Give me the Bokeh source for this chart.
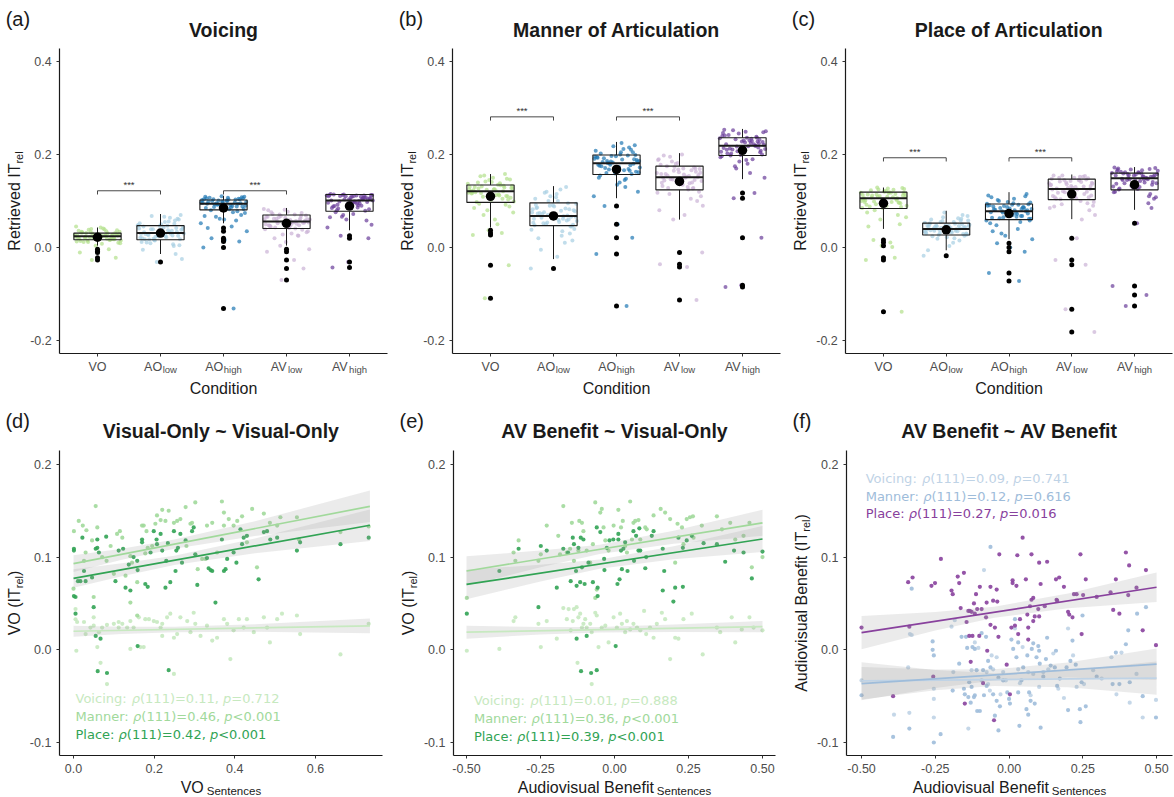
import math
from bokeh.plotting import figure
from bokeh.layouts import gridplot
from bokeh.models import Range1d, FixedTicker, Label, NumeralTickFormatter, LinearAxis, Grid
from bokeh.embed import file_html
from bokeh.resources import INLINE

# ======================= DATA: box plots (a)-(c) =======================
CONDITIONS = ["VO", "AO_low", "AO_high", "AV_low", "AV_high"]
TICK_MAIN = ["VO", "AO", "AO", "AV", "AV"]
TICK_SUB = ["", "low", "high", "low", "high"]
BOX_COLORS = ["#b2df8a", "#a6cee3", "#1f78b4", "#cab2d6", "#6a3d9a"]
BOX_Y_TICKS = [-0.2, 0.0, 0.2, 0.4]
SIG_PAIRS = [(1, 2), (3, 4)]
SIG_TEXT = "***"

# (a) Voicing
VOI_Q1 = [0.0165, 0.0165, 0.081, 0.041, 0.078]
VOI_MED = [0.024, 0.031, 0.094, 0.056, 0.101]
VOI_Q3 = [0.031, 0.047, 0.102, 0.070, 0.114]
VOI_LO = [0.004, -0.014, 0.052, 0.004, 0.037]
VOI_HI = [0.043, 0.072, 0.111, 0.085, 0.115]
VOI_MEAN = [0.022, 0.031, 0.085, 0.052, 0.089]
VOI_OUT = [[-0.004, -0.008, -0.011, -0.022, -0.027], [-0.031],
           [0.042, 0.035, 0.020, 0.016, 0.013, 0.000, -0.131],
           [-0.004, -0.009, -0.027, -0.045, -0.070], [0.025, 0.020, -0.031, -0.043]]
VOI_SIG_Y = 0.122
VOI_PTS = [
    [0.021, 0.025, 0.018, 0.030, 0.034, 0.012, 0.027, 0.023, 0.016, 0.038, 0.029, 0.020, 0.014, 0.041, 0.026, 0.031, 0.010, 0.024, 0.019, 0.036,
     0.028, 0.022, 0.033, 0.045, 0.017, 0.008, 0.032, 0.026, 0.015, 0.039, 0.004, -0.004, -0.011, -0.022, -0.027, 0.043, 0.021, 0.028, 0.013, 0.035,
     0.019, 0.024, 0.029, 0.022, 0.017, 0.027, 0.031, 0.020, 0.025, 0.034, 0.015, 0.023, 0.028, 0.018, 0.026, 0.030, 0.021, 0.037, 0.012, 0.024,
     0.032, 0.019, 0.040, 0.009],
    [0.031, 0.045, 0.022, 0.058, 0.017, 0.038, 0.026, 0.064, 0.012, 0.050, 0.034, 0.019, 0.041, 0.003, 0.055, 0.029, 0.070, 0.009, 0.047, 0.024,
     0.036, -0.005, 0.060, 0.015, 0.043, 0.028, -0.014, 0.052, 0.033, 0.020, 0.066, -0.025, 0.039, 0.007, 0.048, 0.025, -0.031, 0.056, 0.018, 0.030,
     0.027, 0.035, 0.042, 0.021, 0.030, 0.046, 0.018, 0.039, 0.025, 0.033, 0.051, 0.016, 0.044, 0.029, 0.037, 0.062, 0.023, 0.040, 0.011, 0.032,
     0.048, 0.026, 0.068, 0.005],
    [0.095, 0.102, 0.088, 0.107, 0.099, 0.083, 0.104, 0.091, 0.110, 0.097, 0.085, 0.108, 0.093, 0.101, 0.080, 0.105, 0.096, 0.089, 0.109, 0.100,
     0.074, 0.066, 0.058, 0.052, 0.070, 0.062, 0.045, 0.042, 0.035, 0.020, 0.016, 0.013, 0.000, -0.131, 0.098, 0.106, 0.087, 0.103, 0.094, 0.078,
     0.092, 0.098, 0.104, 0.086, 0.095, 0.101, 0.090, 0.107, 0.084, 0.097, 0.103, 0.093, 0.088, 0.099, 0.106, 0.082, 0.094, 0.100, 0.109, 0.091,
     0.076, 0.068, 0.060, 0.104],
    [0.056, 0.068, 0.045, 0.062, 0.074, 0.050, 0.041, 0.080, 0.059, 0.035, 0.065, 0.048, 0.083, 0.053, 0.028, 0.071, 0.044, 0.060, 0.020, 0.077,
     0.038, 0.066, 0.051, 0.012, 0.069, 0.057, 0.030, 0.046, 0.063, 0.004, -0.004, -0.009, -0.027, -0.045, -0.070, 0.054, 0.072, 0.042, 0.061, 0.025,
     0.052, 0.058, 0.064, 0.047, 0.055, 0.068, 0.043, 0.061, 0.050, 0.057, 0.066, 0.045, 0.053, 0.071, 0.039, 0.059, 0.049, 0.076, 0.033, 0.062,
     0.054, 0.081, 0.026, 0.048],
    [0.105, 0.112, 0.098, 0.110, 0.086, 0.114, 0.101, 0.092, 0.108, 0.079, 0.113, 0.095, 0.103, 0.082, 0.111, 0.099, 0.088, 0.107, 0.070, 0.113,
     0.065, 0.094, 0.058, 0.104, 0.049, 0.076, 0.109, 0.043, 0.090, 0.025, 0.020, -0.031, -0.043, 0.097, 0.112, 0.084, 0.106, 0.060, 0.100, 0.115,
     0.102, 0.108, 0.113, 0.096, 0.104, 0.111, 0.089, 0.106, 0.099, 0.112, 0.093, 0.109, 0.085, 0.103, 0.114, 0.097, 0.080, 0.107, 0.110, 0.091,
     0.101, 0.072, 0.113, 0.066],
]

# (b) Manner of Articulation
MAN_Q1 = [0.097, 0.047, 0.157, 0.124, 0.198]
MAN_MED = [0.121, 0.068, 0.181, 0.151, 0.219]
MAN_Q3 = [0.1345, 0.096, 0.199, 0.175, 0.236]
MAN_LO = [0.043, -0.025, 0.106, 0.060, 0.147]
MAN_HI = [0.158, 0.132, 0.227, 0.203, 0.255]
MAN_MEAN = [0.110, 0.068, 0.168, 0.142, 0.209]
MAN_OUT = [[0.037, 0.031, 0.027, -0.038, -0.109], [-0.045],
           [0.089, 0.050, 0.021, -0.014, -0.126],
           [-0.011, -0.036, -0.042, -0.113], [0.117, 0.106, 0.021, -0.081, -0.085]]
MAN_SIG_Y = 0.281
MAN_PTS = [
    [0.121, 0.135, 0.110, 0.142, 0.127, 0.098, 0.150, 0.118, 0.105, 0.131, 0.088, 0.145, 0.123, 0.113, 0.158, 0.094, 0.128, 0.080, 0.138, 0.116,
     0.102, 0.148, 0.070, 0.125, 0.133, 0.060, 0.119, 0.107, 0.153, 0.050, 0.037, 0.031, 0.027, -0.038, -0.109, 0.124, 0.140, 0.092, 0.130, 0.112,
     0.118, 0.126, 0.132, 0.109, 0.121, 0.137, 0.103, 0.124, 0.114, 0.130, 0.099, 0.127, 0.141, 0.111, 0.120, 0.134, 0.106, 0.146, 0.117, 0.123,
     0.085, 0.129, 0.155, 0.075],
    [0.068, 0.085, 0.055, 0.095, 0.072, 0.040, 0.110, 0.062, 0.048, 0.088, 0.030, 0.120, 0.075, 0.058, 0.100, 0.020, 0.080, 0.052, 0.125, 0.065,
     0.010, 0.092, 0.045, 0.070, 0.115, -0.005, 0.060, 0.082, 0.035, 0.105, -0.020, 0.078, 0.050, 0.130, -0.045, 0.066, 0.090, 0.025, 0.073, 0.057,
     0.064, 0.071, 0.082, 0.053, 0.067, 0.091, 0.049, 0.076, 0.059, 0.086, 0.069, 0.054, 0.094, 0.062, 0.079, 0.045, 0.100, 0.066, 0.074, 0.108,
     0.038, 0.084, 0.118, 0.015],
    [0.181, 0.195, 0.165, 0.205, 0.175, 0.188, 0.160, 0.212, 0.170, 0.198, 0.150, 0.220, 0.185, 0.140, 0.192, 0.158, 0.208, 0.130, 0.178, 0.200,
     0.120, 0.168, 0.215, 0.110, 0.190, 0.183, 0.145, 0.202, 0.172, 0.089, 0.050, 0.021, -0.014, -0.126, 0.196, 0.163, 0.186, 0.225, 0.155, 0.177,
     0.178, 0.186, 0.194, 0.166, 0.180, 0.197, 0.162, 0.184, 0.173, 0.191, 0.169, 0.182, 0.199, 0.159, 0.176, 0.189, 0.210, 0.171, 0.185, 0.218,
     0.148, 0.193, 0.135, 0.205],
    [0.151, 0.165, 0.135, 0.175, 0.145, 0.190, 0.125, 0.158, 0.170, 0.110, 0.185, 0.140, 0.160, 0.100, 0.180, 0.130, 0.198, 0.090, 0.155, 0.148,
     0.170, 0.080, 0.138, 0.162, 0.120, 0.195, 0.070, 0.150, 0.128, 0.060, -0.011, -0.036, -0.042, -0.113, 0.173, 0.143, 0.158, 0.200, 0.118, 0.166,
     0.147, 0.156, 0.168, 0.132, 0.150, 0.172, 0.128, 0.161, 0.141, 0.154, 0.178, 0.136, 0.163, 0.146, 0.188, 0.127, 0.157, 0.144, 0.169, 0.115,
     0.152, 0.182, 0.105, 0.139],
    [0.219, 0.235, 0.205, 0.245, 0.225, 0.210, 0.250, 0.198, 0.230, 0.215, 0.240, 0.190, 0.228, 0.200, 0.252, 0.180, 0.222, 0.238, 0.170, 0.212,
     0.246, 0.160, 0.232, 0.207, 0.150, 0.242, 0.226, 0.194, 0.117, 0.106, 0.021, -0.081, -0.085, 0.218, 0.236, 0.202, 0.248, 0.185, 0.229, 0.214,
     0.215, 0.224, 0.233, 0.206, 0.219, 0.236, 0.202, 0.227, 0.211, 0.230, 0.199, 0.222, 0.241, 0.208, 0.217, 0.249, 0.213, 0.228, 0.196, 0.234,
     0.253, 0.188, 0.221, 0.175],
]

# (c) Place of Articulation
PLA_Q1 = [0.084, 0.027, 0.060, 0.103, 0.124]
PLA_MED = [0.106, 0.040, 0.078, 0.126, 0.149]
PLA_Q3 = [0.119, 0.0525, 0.0935, 0.147, 0.160]
PLA_LO = [0.040, -0.006, 0.018, 0.061, 0.081]
PLA_HI = [0.129, 0.079, 0.119, 0.157, 0.173]
PLA_MEAN = [0.095, 0.038, 0.073, 0.115, 0.135]
PLA_OUT = [[0.016, 0.011, 0.004, -0.022, -0.027, -0.138], [-0.018],
           [0.009, 0.000, -0.009, -0.055, -0.072],
           [0.020, -0.027, -0.037, -0.133, -0.182], [0.052, -0.083, -0.102, -0.126]]
PLA_SIG_Y = 0.193
PLA_PTS = [
    [0.106, 0.118, 0.095, 0.125, 0.110, 0.088, 0.122, 0.100, 0.115, 0.080, 0.128, 0.104, 0.092, 0.119, 0.070, 0.112, 0.126, 0.060, 0.108, 0.098,
     0.121, 0.050, 0.114, 0.085, 0.102, 0.127, 0.045, 0.117, 0.016, 0.011, 0.004, -0.022, -0.027, -0.138, 0.109, 0.090, 0.123, 0.097, 0.113, 0.001,
     0.101, 0.109, 0.116, 0.093, 0.105, 0.118, 0.087, 0.111, 0.098, 0.114, 0.090, 0.107, 0.120, 0.096, 0.103, 0.124, 0.085, 0.112, 0.099, 0.117,
     0.075, 0.106, 0.129, 0.065],
    [0.040, 0.050, 0.032, 0.058, 0.044, 0.028, 0.065, 0.036, 0.047, 0.022, 0.070, 0.038, 0.053, 0.015, 0.042, 0.060, 0.030, 0.048, 0.010, 0.075,
     0.035, 0.045, 0.025, 0.055, 0.003, 0.041, 0.062, 0.033, 0.051, -0.006, 0.039, 0.068, 0.027, 0.046, -0.018, 0.043, 0.057, 0.020, 0.037, 0.049,
     0.036, 0.043, 0.050, 0.030, 0.039, 0.048, 0.028, 0.045, 0.034, 0.052, 0.041, 0.031, 0.046, 0.038, 0.055, 0.029, 0.042, 0.058, 0.024, 0.047,
     0.035, 0.063, 0.019, 0.044],
    [0.078, 0.090, 0.068, 0.095, 0.082, 0.062, 0.100, 0.074, 0.087, 0.055, 0.108, 0.080, 0.065, 0.092, 0.048, 0.085, 0.112, 0.040, 0.076, 0.070,
     0.097, 0.030, 0.083, 0.058, 0.115, 0.025, 0.072, 0.088, 0.018, 0.009, 0.000, -0.009, -0.055, -0.072, 0.079, 0.093, 0.063, 0.105, 0.035, 0.086,
     0.075, 0.083, 0.091, 0.066, 0.078, 0.089, 0.062, 0.081, 0.071, 0.094, 0.068, 0.085, 0.073, 0.098, 0.064, 0.080, 0.087, 0.102, 0.058, 0.077,
     0.092, 0.052, 0.084, 0.110],
    [0.126, 0.140, 0.110, 0.150, 0.120, 0.135, 0.100, 0.155, 0.130, 0.090, 0.145, 0.115, 0.138, 0.080, 0.128, 0.152, 0.105, 0.070, 0.142, 0.122,
     0.095, 0.148, 0.060, 0.132, 0.112, 0.155, 0.020, -0.027, -0.037, -0.133, -0.182, 0.125, 0.144, 0.108, 0.136, 0.098, 0.118, 0.150, 0.085, 0.131,
     0.121, 0.132, 0.143, 0.108, 0.125, 0.146, 0.104, 0.137, 0.116, 0.141, 0.111, 0.129, 0.149, 0.119, 0.134, 0.154, 0.106, 0.127, 0.139, 0.093,
     0.145, 0.123, 0.152, 0.088],
    [0.149, 0.160, 0.135, 0.168, 0.152, 0.125, 0.165, 0.145, 0.157, 0.115, 0.172, 0.140, 0.155, 0.105, 0.162, 0.130, 0.170, 0.095, 0.150, 0.158,
     0.120, 0.166, 0.085, 0.147, 0.138, 0.163, 0.052, -0.083, -0.102, -0.126, 0.153, 0.128, 0.167, 0.143, 0.110, 0.159, 0.171, 0.133, 0.146, 0.155,
     0.144, 0.152, 0.158, 0.131, 0.147, 0.161, 0.127, 0.155, 0.138, 0.159, 0.134, 0.150, 0.164, 0.141, 0.156, 0.126, 0.148, 0.169, 0.119, 0.153,
     0.137, 0.162, 0.108, 0.145],
]

# horizontal jitter offsets (category units), read-off spread of the clouds
JITTER = [-0.31, 0.12, 0.27, -0.08, 0.35, -0.22, 0.04, -0.35, 0.19, -0.14, 0.30, -0.02, -0.27, 0.09, 0.23, -0.18, 0.33, -0.05, 0.15, -0.30,
          0.01, 0.26, -0.11, -0.34, 0.21, 0.07, -0.24, 0.32, -0.16, 0.11, -0.03, 0.18, -0.28, 0.29, -0.09, 0.05, -0.20, 0.24, -0.33, 0.14,
          -0.29, 0.06, 0.34, -0.12, 0.20, -0.36, 0.28, -0.06, 0.13, -0.25, 0.37, -0.19, 0.02, 0.25, -0.32, 0.16, -0.01, 0.31, -0.15, 0.08,
          -0.26, 0.22, -0.10, 0.36]

# ======================= DATA: scatter panels (d)-(f) =======================
SERIES = ["Voicing", "Manner", "Place"]
DF = 111
GREEN_COLORS = ["#c7e9c0", "#a1d99b", "#31a354"]
BUPU_COLORS = ["#bfd3e6", "#9ebcda", "#88419d"]
SCAT_Y_TICKS = [-0.1, 0.0, 0.1, 0.2]

D_VOICING = [(0.005,0.033),(0.009,0.030),(0.007,-0.001),(0.026,0.030),(0.030,0.017),(0.042,0.024),(0.050,0.035),(0.063,0.019),(0.071,0.024),
             (0.083,0.027),(0.100,0.028),(0.112,0.030),(0.121,0.028),(0.133,0.024),(0.141,0.031),(0.149,0.024),(0.162,0.035),(0.166,0.003),
             (0.178,0.033),(0.187,0.033),(0.199,0.031),(0.207,0.030),(0.216,0.024),(0.220,0.015),(0.232,0.035),(0.240,0.039),(0.249,0.013),
             (0.257,0.017),(0.265,0.035),(0.282,0.031),(0.290,0.019),(0.298,0.040),(0.302,0.028),(0.315,0.015),(0.331,0.026),(0.344,0.010),
             (0.356,0.013),(0.373,0.033),(0.381,0.028),(0.389,-0.010),(0.397,0.021),(0.410,0.033),(0.422,0.024),(0.430,0.033),(0.447,0.019),
             (0.472,0.035),(0.480,0.024),(0.487,0.008),(0.505,0.033),(0.517,0.039),(0.554,0.037),(0.562,0.017),(0.662,-0.005),(0.732,0.028),
             (0.005,0.044),(0.059,0.003),(0.067,-0.014),(0.083,-0.037),(0.141,0.001),(0.174,0.003),(0.249,-0.026),(0.050,0.026),(0.112,0.024),
             (0.220,0.028)]
D_MANNER = [(0.001,0.128),(0.013,0.139),(0.023,0.134),(0.030,0.105),(0.026,0.096),(0.032,0.129),(0.055,0.155),(0.059,0.132),(0.046,0.118),
            (0.071,0.100),(0.082,0.096),(0.092,0.112),(0.100,0.082),(0.108,0.125),(0.115,0.128),(0.121,0.121),(0.129,0.080),(0.141,0.101),
            (0.145,0.094),(0.158,0.073),(0.170,0.134),(0.174,0.134),(0.181,0.128),(0.184,0.110),(0.178,0.104),(0.195,0.112),(0.203,0.136),
            (0.207,0.145),(0.220,0.151),(0.216,0.140),(0.228,0.139),(0.236,0.150),(0.249,0.137),(0.257,0.139),(0.265,0.141),(0.278,0.154),
            (0.280,0.112),(0.290,0.136),(0.294,0.137),(0.302,0.159),(0.308,0.087),(0.319,0.098),(0.327,0.098),(0.331,0.134),(0.344,0.137),
            (0.356,0.105),(0.368,0.160),(0.373,0.148),(0.373,0.134),(0.385,0.141),(0.397,0.134),(0.406,0.139),(0.418,0.144),(0.430,0.116),
            (0.443,0.152),(0.455,0.089),(0.472,0.147),(0.487,0.137),(0.505,0.134),(0.513,0.143),(0.554,0.143),(0.559,0.119),(0.662,0.127),
            (0.732,0.133),(0.050,0.057),(0.141,0.051),(0.158,0.037),(0.000,0.066)]
D_PLACE = [(0.001,0.109),(0.001,0.107),(0.011,0.074),(0.001,0.058),(0.005,0.057),(0.005,0.039),(0.022,0.121),(0.026,0.085),(0.017,0.074),
           (0.030,0.074),(0.046,0.078),(0.055,0.109),(0.059,0.110),(0.063,0.105),(0.059,0.119),(0.081,0.122),(0.104,0.074),(0.112,0.107),
           (0.123,0.109),(0.129,0.067),(0.141,0.064),(0.137,0.092),(0.149,0.100),(0.158,0.096),(0.159,0.086),(0.170,0.119),(0.170,0.116),
           (0.178,0.071),(0.184,0.068),(0.191,0.105),(0.199,0.128),(0.206,0.119),(0.207,0.114),(0.216,0.125),(0.220,0.107),(0.228,0.067),
           (0.230,0.096),(0.234,0.115),(0.240,0.073),(0.249,0.128),(0.253,0.085),(0.255,0.107),(0.259,0.110),(0.265,0.125),(0.269,0.094),
           (0.278,0.118),(0.294,0.128),(0.298,0.132),(0.302,0.103),(0.307,0.070),(0.331,0.099),(0.335,0.088),(0.340,0.086),(0.344,0.085),
           (0.352,0.051),(0.368,0.119),(0.373,0.085),(0.377,0.087),(0.381,0.098),(0.397,0.105),(0.404,0.094),(0.414,0.130),(0.418,0.114),
           (0.422,0.121),(0.430,0.123),(0.459,0.076),(0.472,0.127),(0.480,0.128),(0.488,0.119),(0.505,0.121),(0.554,0.107),(0.562,0.116),
           (0.662,0.114),(0.732,0.121),(0.050,0.046),(0.055,0.015),(0.067,0.012),(0.060,-0.023),(0.083,-0.025),(0.159,0.004),(0.236,-0.022)]
D_INTERCEPT = [0.020, 0.093, 0.077]
D_SLOPE = [0.008, 0.084, 0.078]
D_LINE_X = [0.0, 0.735]
D_BAND_X = [0.0, 0.12, 0.25, 0.45, 0.735]
D_BAND_HW = [[0.006, 0.004, 0.003, 0.004, 0.008], [0.009, 0.006, 0.005, 0.008, 0.017], [0.010, 0.007, 0.005, 0.008, 0.017]]
D_X_TICKS = [0.0, 0.2, 0.4, 0.6]
D_RHO = ["0.11", "0.46", "0.42"]
D_P = ["=0.712", "<0.001", "<0.001"]

E_VOICING = [(-0.499,-0.001),(-0.389,0.001),(-0.335,0.035),(-0.341,0.031),(-0.257,0.028),(-0.249,0.003),(-0.229,0.031),(-0.195,0.012),
             (-0.173,0.045),(-0.161,0.033),(-0.155,0.044),(-0.148,0.021),(-0.141,0.031),(-0.137,0.044),(-0.128,0.046),(-0.122,0.035),
             (-0.116,0.039),(-0.110,0.024),(-0.105,0.028),(-0.099,0.033),(-0.094,0.024),(-0.082,0.028),(-0.077,0.019),(-0.065,0.040),
             (-0.060,0.037),(-0.054,0.003),(-0.043,0.024),(-0.031,0.026),(-0.020,0.008),(-0.003,0.035),(0.008,0.024),(0.019,0.039),
             (0.025,0.028),(0.036,0.019),(0.042,0.031),(0.053,0.022),(0.064,0.028),(0.076,0.024),(0.087,0.021),(0.100,0.042),(0.107,0.017),
             (0.120,0.024),(0.132,0.013),(0.143,0.028),(0.160,0.040),(0.171,0.033),(0.188,-0.010),(0.205,0.013),(0.216,0.012),(0.233,0.033),
             (0.261,0.039),(0.298,-0.005),(0.346,0.024),(0.357,0.019),(0.396,0.035),(0.408,0.008),(0.430,0.022),(0.456,0.035),(0.470,0.024),
             (0.500,0.021),(-0.125,-0.014),(-0.077,-0.037)]
E_MANNER = [(-0.324,0.118),(-0.341,0.105),(-0.335,0.096),(-0.257,0.096),(-0.249,0.103),(-0.229,0.134),(-0.190,0.123),(-0.173,0.155),
            (-0.184,0.103),(-0.161,0.105),(-0.150,0.109),(-0.144,0.137),(-0.137,0.096),(-0.122,0.107),(-0.119,0.139),(-0.110,0.137),
            (-0.105,0.128),(-0.094,0.107),(-0.082,0.094),(-0.073,0.114),(-0.065,0.159),(-0.048,0.148),(-0.043,0.152),(-0.037,0.132),
            (-0.031,0.118),(-0.020,0.107),(-0.003,0.134),(0.013,0.151),(0.022,0.132),(0.028,0.139),(0.036,0.112),(0.042,0.105),(0.053,0.160),
            (0.059,0.119),(0.064,0.137),(0.070,0.139),(0.081,0.140),(0.087,0.119),(0.104,0.132),(0.109,0.130),(0.132,0.145),(0.156,0.152),
            (0.171,0.148),(0.188,0.141),(0.205,0.094),(0.213,0.136),(0.228,0.132),(0.233,0.114),(0.244,0.141),(0.255,0.143),(0.265,0.144),
            (0.295,0.134),(0.346,0.144),(0.363,0.130),(0.391,0.137),(0.408,0.119),(0.436,0.123),(0.456,0.137),(0.464,0.089),(0.500,0.100),
            (0.267,0.121),(-0.060,0.065),(-0.065,0.056),(-0.499,0.056)]
E_PLACE = [(-0.499,0.039),(-0.389,0.085),(-0.324,0.109),(-0.257,0.046),(-0.249,0.112),(-0.229,0.107),(-0.195,0.067),(-0.173,0.109),
           (-0.157,0.105),(-0.148,0.074),(-0.141,0.121),(-0.137,0.114),(-0.130,0.085),(-0.128,0.069),(-0.122,0.110),(-0.116,0.073),
           (-0.114,0.121),(-0.110,0.089),(-0.105,0.119),(-0.101,0.071),(-0.088,0.094),(-0.073,0.073),(-0.060,0.132),(-0.057,0.067),
           (-0.057,0.058),(-0.048,0.127),(-0.035,0.098),(-0.034,0.086),(-0.026,0.110),(-0.017,0.118),(-0.004,0.119),(0.010,0.071),
           (0.013,0.125),(0.013,0.119),(0.017,0.076),(0.022,0.107),(0.025,0.087),(0.030,0.109),(0.036,0.116),(0.044,0.085),(0.064,0.128),
           (0.066,0.096),(0.073,0.123),(0.081,0.107),(0.084,0.131),(0.087,0.107),(0.104,0.088),(0.107,0.100),(0.126,0.123),(0.132,0.128),
           (0.163,0.109),(0.163,0.064),(0.168,0.085),(0.199,0.052),(0.205,0.067),(0.216,0.121),(0.231,0.110),(0.231,0.068),(0.244,0.118),
           (0.261,0.123),(0.301,0.115),(0.346,0.114),(0.374,0.095),(0.404,0.107),(0.436,0.105),(0.464,0.077),(0.500,0.106),(-0.128,0.012),
           (-0.094,0.015),(0.004,0.004),(-0.113,-0.023),(-0.079,-0.025),(-0.060,-0.022)]
E_INTERCEPT = [0.022, 0.111, 0.095]
E_SLOPE = [0.006, 0.052, 0.049]
E_LINE_X = [-0.5, 0.5]
E_BAND_X = [-0.5, -0.25, -0.05, 0.2, 0.5]
E_BAND_HW = [[0.007, 0.004, 0.003, 0.004, 0.006], [0.016, 0.009, 0.005, 0.007, 0.014], [0.016, 0.009, 0.005, 0.007, 0.014]]
EF_X_TICKS = [-0.5, -0.25, 0.0, 0.25, 0.5]
E_RHO = ["0.01", "0.36", "0.39"]
E_P = ["=0.888", "<0.001", "<0.001"]

F_VOICING = [(-0.500,-0.033),(-0.338,-0.068),(-0.342,-0.019),(-0.336,0.017),(-0.255,-0.073),(-0.255,-0.042),(-0.255,-0.053),(-0.195,0.025),
             (-0.184,0.032),(-0.127,-0.022),(-0.116,0.008),(-0.104,0.002),(-0.093,-0.033),(-0.085,0.086),(-0.076,-0.024),(-0.071,-0.037),
             (-0.065,-0.044),(-0.054,-0.021),(-0.042,-0.008),(-0.029,-0.048),(-0.020,-0.024),(-0.011,-0.033),(0.020,0.023),(0.031,-0.021),
             (0.037,-0.036),(0.046,0.003),(0.065,-0.024),(0.073,-0.049),(0.082,-0.026),(0.102,-0.040),(0.116,-0.024),(0.133,-0.021),
             (0.150,-0.004),(0.167,-0.042),(0.186,-0.052),(0.200,0.023),(0.217,-0.006),(0.229,-0.040),(0.254,-0.037),(0.285,-0.022),
             (0.314,-0.031),(0.347,-0.008),(0.364,-0.048),(0.381,-0.003),(0.409,-0.057),(0.432,-0.026),(0.453,-0.073),(0.498,-0.054),
             (-0.138,-0.085),(-0.059,-0.006),(-0.189,-0.024),(-0.330,0.016),(-0.390,-0.070)]
F_MANNER = [(-0.500,-0.049),(-0.393,-0.094),(-0.338,-0.085),(-0.330,0.066),(-0.259,0.009),(-0.259,0.000),(-0.255,-0.006),(-0.255,-0.100),
            (-0.232,-0.091),(-0.191,-0.044),(-0.169,-0.015),(-0.161,0.014),(-0.153,-0.042),(-0.150,-0.048),(-0.146,0.014),(-0.142,0.002),
            (-0.138,-0.051),(-0.135,-0.035),(-0.130,-0.057),(-0.127,-0.040),(-0.124,0.003),(-0.119,-0.051),(-0.116,0.001),(-0.116,-0.049),
            (-0.110,-0.022),(-0.108,-0.066),(-0.099,-0.066),(-0.093,0.018),(-0.088,-0.022),(-0.085,-0.049),(-0.078,0.014),(-0.076,-0.039),
            (-0.071,-0.012),(-0.063,-0.019),(-0.054,-0.048),(-0.048,-0.071),(-0.042,-0.055),(-0.036,-0.030),(-0.036,-0.087),(-0.031,-0.061),
            (-0.020,-0.033),(-0.006,-0.046),(0.000,-0.053),(0.003,-0.058),(0.008,0.011),(0.014,0.001),(0.020,0.033),(0.025,-0.008),
            (0.031,-0.046),(0.031,0.008),(0.035,-0.082),(0.042,-0.033),(0.048,-0.019),(0.059,-0.064),(0.062,-0.006),(0.065,-0.070),
            (0.068,-0.046),(0.073,-0.055),(0.077,0.001),(0.082,0.007),(0.087,-0.058),(0.093,-0.008),(0.099,0.004),(0.102,-0.001),
            (0.104,-0.015),(0.107,-0.084),(0.116,-0.029),(0.125,-0.010),(0.129,0.013),(0.141,-0.017),(0.155,-0.019),(0.159,-0.001),
            (0.163,-0.039),(0.172,-0.031),(0.195,-0.019),(0.200,-0.065),(0.208,-0.012),(0.215,0.010),(0.226,-0.016),(0.240,-0.064),
            (0.242,-0.078),(0.246,-0.035),(0.249,0.037),(0.260,-0.061),(0.297,-0.029),(0.351,-0.037),(0.362,-0.003),(0.374,-0.037),
            (0.396,0.006),(0.404,0.021),(0.409,-0.035),(0.434,0.039),(0.453,-0.050),(0.464,0.046),(0.498,-0.073),(-0.063,0.111)]
F_PLACE = [(-0.500,0.024),(-0.393,-0.050),(-0.342,0.073),(-0.327,0.078),(-0.338,0.025),(-0.263,0.069),(-0.251,0.072),(-0.257,-0.029),
           (-0.231,0.098),(-0.195,0.064),(-0.191,0.060),(-0.174,0.079),(-0.169,0.072),(-0.164,0.045),(-0.153,0.083),(-0.150,-0.058),
           (-0.144,0.030),(-0.138,0.042),(-0.135,0.015),(-0.133,0.042),(-0.127,0.041),(-0.124,0.015),(-0.119,0.050),(-0.116,0.039),
           (-0.112,0.060),(-0.108,0.044),(-0.101,0.015),(-0.099,0.068),(-0.093,0.044),(-0.088,-0.036),(-0.078,0.035),(-0.076,0.051),
           (-0.074,-0.001),(-0.063,0.068),(-0.063,0.027),(-0.054,0.053),(-0.051,-0.076),(-0.048,0.024),(-0.042,0.065),(-0.040,0.052),
           (-0.036,0.014),(-0.033,0.103),(-0.008,-0.016),(0.008,0.024),(0.012,0.075),(0.012,0.072),(0.020,0.026),(0.025,0.069),
           (0.028,0.102),(0.031,0.017),(0.037,0.033),(0.046,0.121),(0.057,0.076),(0.062,0.038),(0.065,0.024),(0.065,0.011),(0.071,0.047),
           (0.076,0.054),(0.076,0.103),(0.082,0.056),(0.082,0.031),(0.087,0.036),(0.099,0.044),(0.102,0.036),(0.102,0.094),(0.107,0.071),
           (0.121,0.047),(0.129,0.095),(0.159,0.076),(0.161,0.054),(0.163,0.053),(0.170,0.078),(0.186,0.068),(0.200,0.041),(0.204,0.038),
           (0.215,0.035),(0.220,0.060),(0.229,0.060),(0.242,0.103),(0.246,0.017),(0.251,0.059),(0.260,0.076),(0.297,0.057),(0.344,0.062),
           (0.353,0.043),(0.362,0.076),(0.374,0.039),(0.396,0.105),(0.404,0.059),(0.407,0.091),(0.432,0.067),(0.453,0.021),(0.464,0.086),
           (0.498,0.005),(0.003,-0.048),(-0.130,-0.013)]
F_INTERCEPT = [-0.032, -0.026, 0.043]
F_SLOPE = [0.003, 0.021, 0.049]
F_LINE_X = [-0.5, 0.5]
F_BAND_X = [-0.5, -0.25, -0.05, 0.2, 0.5]
F_BAND_HW = [[0.020, 0.011, 0.007, 0.009, 0.018], [0.018, 0.010, 0.006, 0.008, 0.017], [0.018, 0.010, 0.006, 0.008, 0.016]]
F_RHO = ["0.09", "0.12", "0.27"]
F_P = ["=0.741", "=0.616", "=0.016"]

# ======================= helpers =======================
SANS = "Liberation Sans"
LEG_FONT = "DejaVu Sans"
TICK_COLOR = "#4d4d4d"
INK = "#1a1a1a"

ARIAL = {' ': 278, '(': 333, ')': 333, '-': 333, '.': 278, ',': 278, ':': 278, '~': 584,
         'A': 667, 'B': 667, 'C': 722, 'D': 722, 'E': 667, 'F': 611, 'I': 278, 'O': 778, 'R': 722, 'S': 667,
         'T': 611, 'V': 667, 'M': 833, 'P': 667,
         'a': 556, 'b': 556, 'c': 500, 'd': 556, 'e': 556, 'f': 278, 'g': 556, 'h': 556, 'i': 222, 'l': 222,
         'n': 556, 'o': 556, 'r': 333, 's': 500, 't': 278, 'u': 556, 'v': 500, 'w': 722, 'y': 500}
DEJAVU = {' ': 318, '(': 390, ')': 390, ',': 318, '.': 318, ':': 337, '=': 838, '<': 838, 'ρ': 635, 'p': 635,
          'V': 684, 'o': 612, 'i': 278, 'c': 550, 'n': 634, 'g': 635, 'M': 863, 'a': 613, 'e': 615, 'r': 411,
          'P': 603, 'l': 278}
for _d in "0123456789":
    ARIAL[_d] = 556
    DEJAVU[_d] = 636


def tw(s, size, table=ARIAL):
    return sum(table.get(c, 556) for c in s) * size / 1000.0


def lab(p, text, x, y, xo=0, yo=0, size=12.5, color=INK, align="left", baseline="middle",
        angle=0.0, font=SANS, style="normal"):
    p.add_layout(Label(x=x, y=y, x_units="data", y_units="data", x_offset=xo, y_offset=yo, text=text,
                       text_font=font, text_font_size=f"{size}px", text_color=color, text_align=align,
                       text_baseline=baseline, angle=angle, text_font_style=style))


def style_axis(ax):
    ax.axis_line_color = INK
    ax.axis_line_width = 1.2
    ax.major_tick_line_color = "#333333"
    ax.major_tick_line_width = 1
    ax.major_tick_out = 3
    ax.major_tick_in = 0
    ax.minor_tick_line_color = None
    ax.major_label_text_font = SANS
    ax.major_label_text_font_size = "12.5px"
    ax.major_label_text_color = TICK_COLOR
    ax.major_label_standoff = 5


def make_fig(w, h, L, R, T, B, xd, yd, xticks, yticks, xfmt, yfmt):
    """Frame covers the whole canvas; the data area [xd] x [yd] sits at pixels L..R, T..B.
    Axes are real Bokeh axes pinned with fixed_location to the data area's edges."""
    ppx = (R - L) / (xd[1] - xd[0])
    ppy = (B - T) / (yd[1] - yd[0])
    xr = Range1d(xd[0] - L / ppx, xd[1] + (w - R) / ppx)
    yr = Range1d(yd[0] - (h - B) / ppy, yd[1] + T / ppy)
    p = figure(width=w, height=h, x_range=xr, y_range=yr, output_backend="svg", toolbar_location=None,
               min_border=0, x_axis_location=None, y_axis_location=None)
    p.title.visible = False
    p.outline_line_color = None
    p.background_fill_color = "white"
    p.border_fill_color = "white"
    for g in p.select(type=Grid):
        g.visible = False
    xa = LinearAxis(fixed_location=yd[0], bounds=(xd[0], xd[1]), ticker=FixedTicker(ticks=xticks))
    ya = LinearAxis(fixed_location=xd[0], bounds=(yd[0], yd[1]), ticker=FixedTicker(ticks=yticks))
    style_axis(xa)
    style_axis(ya)
    if xfmt is not None:
        xa.formatter = NumeralTickFormatter(format=xfmt)
    ya.formatter = NumeralTickFormatter(format=yfmt)
    p.add_layout(xa, "below")
    p.add_layout(ya, "left")
    return p, xa, ya


def y_label(p, xd, yd, parts):
    sizes = [11 if sub else 16 for _, sub in parts]
    widths = [tw(t, s) for (t, _), s in zip(parts, sizes)]
    pos = -sum(widths) / 2.0
    ymid = (yd[0] + yd[1]) / 2.0
    for (t, sub), s, w in zip(parts, sizes, widths):
        lab(p, t, xd[0], ymid, xo=(-40.7 if sub else -45.0), yo=pos, size=s, angle=math.pi / 2)
        pos += w


def x_label(p, xd, yd, main, sub, mid):
    wm = tw(main, 16)
    ws = tw(sub, 11.5) if sub else 0.0
    gap = 3.0 if sub else 0.0
    left = -(wm + gap + ws) / 2.0
    xmid = (xd[0] + xd[1]) / 2.0
    lab(p, main, xmid, yd[0], xo=left, yo=mid, size=16)
    if sub:
        lab(p, sub, xmid, yd[0], xo=left + wm + gap, yo=mid - 3.6, size=11.5)


def headers(p, xd, yd, title, tag, title_up):
    lab(p, title, (xd[0] + xd[1]) / 2.0, yd[1], yo=title_up, size=19.5, align="center", style="bold")
    lab(p, tag, xd[0], yd[1], xo=-54, yo=30, size=20)


COL_W = [390, 391, 393]
ROW_H = [397, 400]
TOP_TB = (48, 353)
BOT_TB = (53, 358)
BOX_LR = [(59.2, 386.8), (62.2, 389.8), (64.3, 390.7)]
SCAT_LR = [(58.9, 381.9), (63.0, 385.0), (65.0, 391.0)]
BOX_XD = (0.4, 5.6)
BOX_YD = (-0.228, 0.428)
SCAT_YD = (-0.114, 0.215)


def box_panel(col, title, tag, q1, med, q3, lo, hi, mean, outs, pts, sig_y):
    xs = [1, 2, 3, 4, 5]
    L, R = BOX_LR[col]
    p, xa, ya = make_fig(COL_W[col], ROW_H[0], L, R, TOP_TB[0], TOP_TB[1], BOX_XD, BOX_YD,
                         xs, BOX_Y_TICKS, None, "0.0")
    xa.major_label_overrides = {x: "" for x in xs}
    bw = 0.75
    for g in range(5):
        vals = pts[g]
        jx = [xs[g] + JITTER[(i + 11 * g) % len(JITTER)] for i in range(len(vals))]
        p.scatter(jx, vals, size=4, fill_color=BOX_COLORS[g], fill_alpha=0.7, line_color=None)
    p.segment(x0=xs, y0=q3, x1=xs, y1=hi, line_color=INK, line_width=1)
    p.segment(x0=xs, y0=lo, x1=xs, y1=q1, line_color=INK, line_width=1)
    p.vbar(x=xs, width=bw, bottom=q1, top=q3, fill_color=None, line_color=INK, line_width=1.1)
    p.segment(x0=[x - bw / 2 for x in xs], y0=med, x1=[x + bw / 2 for x in xs], y1=med,
              line_color=INK, line_width=2)
    ox = [xs[g] for g in range(5) for _ in outs[g]]
    oy = [v for g in range(5) for v in outs[g]]
    p.scatter(ox, oy, size=5, fill_color="black", line_color=None)
    p.scatter(xs, mean, size=9.5, fill_color="black", line_color=None)
    for (i, j) in SIG_PAIRS:
        p.line([i, i, j, j], [sig_y - 0.008, sig_y, sig_y, sig_y - 0.008], line_color="#333333", line_width=0.9)
        lab(p, SIG_TEXT, (i + j) / 2.0, sig_y, yo=6.5, size=9.5, align="center", color="#333333")
    for g in range(5):
        m, s = TICK_MAIN[g], TICK_SUB[g]
        wm = tw(m, 12.5)
        ws = tw(s, 9.5) if s else 0.0
        left = -(wm + ws + (0.5 if s else 0)) / 2.0
        lab(p, m, xs[g], BOX_YD[0], xo=left, yo=-13.3, size=12.5, color=TICK_COLOR)
        if s:
            lab(p, s, xs[g], BOX_YD[0], xo=left + wm + 0.5, yo=-16.2, size=9.5, color=TICK_COLOR)
    x_label(p, BOX_XD, BOX_YD, "Condition", "", -34.8)
    y_label(p, BOX_XD, BOX_YD, [("Retrieved IT", False), ("rel", True)])
    headers(p, BOX_XD, BOX_YD, title, tag, 19)
    return p


def scatter_panel(col, title, tag, xd, xticks, xfmt, series, colors, inter, slope, line_x,
                  band_x, band_hw, rho, pv, leg_x, leg_y, ylab_parts, xmain):
    L, R = SCAT_LR[col]
    p, xa, ya = make_fig(COL_W[col], ROW_H[1], L, R, BOT_TB[0], BOT_TB[1], xd, SCAT_YD,
                         xticks, SCAT_Y_TICKS, xfmt, "0.0")
    for k, pts in enumerate(series):
        p.scatter([q[0] for q in pts], [q[1] for q in pts], size=4.2, fill_color=colors[k],
                  fill_alpha=0.9, line_color=None)
    for k in range(3):
        ctr = [inter[k] + slope[k] * x for x in band_x]
        p.varea(x=band_x, y1=[c - h for c, h in zip(ctr, band_hw[k])], y2=[c + h for c, h in zip(ctr, band_hw[k])],
                fill_color="#999999", fill_alpha=0.2)
    for k in range(3):
        p.line(line_x, [inter[k] + slope[k] * x for x in line_x], line_color=colors[k], line_width=1.7)
    for k in range(3):
        pieces = [(f"{SERIES[k]}: ", "normal"), ("ρ", "italic"), (f"({DF})={rho[k]}, ", "normal"),
                  ("p", "italic"), (pv[k], "normal")]
        xo = 0.0
        for t, st in pieces:
            lab(p, t, leg_x, leg_y, xo=xo, yo=-17.7 * k, size=13, color=colors[k], baseline="middle",
                font=LEG_FONT, style=st)
            xo += tw(t, 13, DEJAVU)
    x_label(p, xd, SCAT_YD, xmain, "Sentences", -31.5)
    y_label(p, xd, SCAT_YD, ylab_parts)
    headers(p, xd, SCAT_YD, title, tag, 20)
    return p


pa = box_panel(0, "Voicing", "(a)", VOI_Q1, VOI_MED, VOI_Q3, VOI_LO, VOI_HI, VOI_MEAN, VOI_OUT, VOI_PTS, VOI_SIG_Y)
pb = box_panel(1, "Manner of Articulation", "(b)", MAN_Q1, MAN_MED, MAN_Q3, MAN_LO, MAN_HI, MAN_MEAN, MAN_OUT, MAN_PTS, MAN_SIG_Y)
pc = box_panel(2, "Place of Articulation", "(c)", PLA_Q1, PLA_MED, PLA_Q3, PLA_LO, PLA_HI, PLA_MEAN, PLA_OUT, PLA_PTS, PLA_SIG_Y)

pd = scatter_panel(0, "Visual-Only ~ Visual-Only", "(d)", (-0.035, 0.766), D_X_TICKS, "0.0",
                   [D_VOICING, D_MANNER, D_PLACE], GREEN_COLORS, D_INTERCEPT, D_SLOPE, D_LINE_X,
                   D_BAND_X, D_BAND_HW, D_RHO, D_P, 0.005, -0.053,
                   [("VO (IT", False), ("rel", True), (")", False)], "VO")
pe = scatter_panel(1, "AV Benefit ~ Visual-Only", "(e)", (-0.544, 0.544), EF_X_TICKS, "0.00",
                   [E_VOICING, E_MANNER, E_PLACE], GREEN_COLORS, E_INTERCEPT, E_SLOPE, E_LINE_X,
                   E_BAND_X, E_BAND_HW, E_RHO, E_P, -0.475, -0.055,
                   [("VO (IT", False), ("rel", True), (")", False)], "Audiovisual Benefit")
pf = scatter_panel(2, "AV Benefit ~ AV Benefit", "(f)", (-0.551, 0.554), EF_X_TICKS, "0.00",
                   [F_VOICING, F_MANNER, F_PLACE], BUPU_COLORS, F_INTERCEPT, F_SLOPE, F_LINE_X,
                   F_BAND_X, F_BAND_HW, F_RHO, F_P, -0.486, 0.185,
                   [("Audiovisual Benefit (IT", False), ("rel", True), (")", False)], "Audiovisual Benefit")

grid = gridplot([[pa, pb, pc], [pd, pe, pf]], toolbar_location=None)
open("out.html", "w").write(file_html(grid, INLINE))
